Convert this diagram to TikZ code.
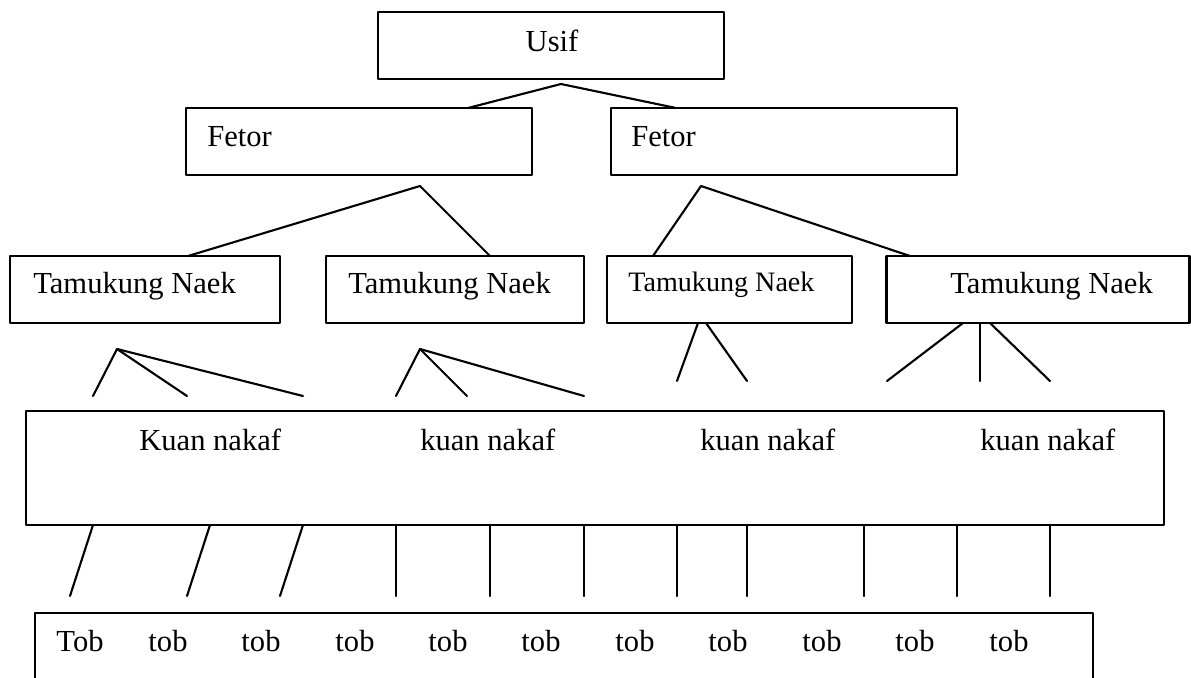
\documentclass[tikz,border=0pt]{standalone}
\usepackage{fontspec}
\setmainfont{Liberation Serif}
\usepackage{tikz}

\begin{document}
\begin{tikzpicture}[line cap=round,line join=round,x=0.02cm,y=-0.02cm,
  box/.style={draw,line width=1.3pt,rectangle,inner sep=0pt},
  lbl/.style={inner sep=0pt,font=\fontsize{17.4}{20}\selectfont},
  conn/.style={line width=1.2pt}]
\clip (0,0) rectangle (1191,677);
% boxes
\node[box,minimum width=6.92cm,minimum height=1.34cm] (usif) at (551,45.5) {};
\node[box,minimum width=6.92cm,minimum height=1.34cm] (fetorA) at (359,141.5) {};
\node[box,minimum width=6.92cm,minimum height=1.34cm] (fetorB) at (784,141.5) {};
\node[box,minimum width=5.4cm,minimum height=1.34cm] (naekA) at (145,289.5) {};
\node[box,minimum width=5.16cm,minimum height=1.34cm] (naekB) at (455,289.5) {};
\node[box,minimum width=4.9cm,minimum height=1.34cm] (naekC) at (729.5,289.5) {};
\node[box,minimum width=6.06cm,minimum height=1.34cm] (naekD) at (1038,289.5) {};
\node[box,minimum width=22.76cm,minimum height=2.28cm] (kuan) at (595,468) {};
\node[box,minimum width=21.16cm,minimum height=1.74cm] (tob) at (564,656.5) {};
% texts
\node[lbl,anchor=base] (usifT) at (552,51.7) {Usif};
\node[lbl,anchor=base west] (fetorAT) at (207,146.7) {Fetor};
\node[lbl,anchor=base west] (fetorBT) at (631,146.7) {Fetor};
\node[lbl,anchor=base west] (naekAT) at (33,293) {Tamukung Naek};
\node[lbl,anchor=base west] (naekBT) at (348,293) {Tamukung Naek};
\node[lbl,anchor=base west,font=\fontsize{16}{19}\selectfont] (naekCT) at (628,291.7) {Tamukung Naek};
\node[lbl,anchor=base west] (naekDT) at (950,293) {Tamukung Naek};
\node[lbl,anchor=base west] (kuanA) at (139,450) {Kuan nakaf};
\node[lbl,anchor=base west] (kuanB) at (420,450) {kuan nakaf};
\node[lbl,anchor=base west] (kuanC) at (700,450) {kuan nakaf};
\node[lbl,anchor=base west] (kuanD) at (980,450) {kuan nakaf};
\node[lbl,anchor=base] (tob1) at (80,651.7) {Tob};
\node[lbl,anchor=base] (tob2) at (168,651.7) {tob};
\node[lbl,anchor=base] (tob3) at (261,651.7) {tob};
\node[lbl,anchor=base] (tob4) at (355,651.7) {tob};
\node[lbl,anchor=base] (tob5) at (448,651.7) {tob};
\node[lbl,anchor=base] (tob6) at (541,651.7) {tob};
\node[lbl,anchor=base] (tob7) at (635,651.7) {tob};
\node[lbl,anchor=base] (tob8) at (728,651.7) {tob};
\node[lbl,anchor=base] (tob9) at (822,651.7) {tob};
\node[lbl,anchor=base] (tob10) at (915,651.7) {tob};
\node[lbl,anchor=base] (tob11) at (1009,651.7) {tob};
% usif to fetor
\coordinate (usifTop) at (561,84);
\coordinate (fetorAIn) at (468,108);
\coordinate (fetorBIn) at (676,108);
\draw[conn] (fetorAIn)-- (usifTop)-- (fetorBIn);
% fetor to tamukung naek
\coordinate (fetorATop) at (420,186);
\coordinate (naekAIn) at (188,256);
\coordinate (naekBIn) at (490,256);
\draw[conn] (naekAIn)-- (fetorATop)-- (naekBIn);
\coordinate (fetorBTop) at (701,186);
\coordinate (naekCIn) at (653,256);
\coordinate (naekDIn) at (910,256);
\draw[conn] (naekCIn)-- (fetorBTop)-- (naekDIn);
% tamukung naek to kuan nakaf
\coordinate (naekATop) at (117,349);
\coordinate (fanA1) at (93,396);
\coordinate (fanA2) at (187,396);
\coordinate (fanA3) at (303,396);
\draw[conn] (naekATop)-- (fanA1);
\draw[conn] (naekATop)-- (fanA2);
\draw[conn] (naekATop)-- (fanA3);
\coordinate (naekBTop) at (420,349);
\coordinate (fanB1) at (396,396);
\coordinate (fanB2) at (467,396);
\coordinate (fanB3) at (584,396);
\draw[conn] (naekBTop)-- (fanB1);
\draw[conn] (naekBTop)-- (fanB2);
\draw[conn] (naekBTop)-- (fanB3);
\coordinate (naekCOut1) at (698,323);
\coordinate (naekCOut2) at (706,323);
\coordinate (fanC1) at (677,381);
\coordinate (fanC2) at (747,381);
\draw[conn] (naekCOut1)-- (fanC1);
\draw[conn] (naekCOut2)-- (fanC2);
\coordinate (naekDOut1) at (963,323);
\coordinate (naekDOut2) at (980,323);
\coordinate (naekDOut3) at (990,323);
\coordinate (fanD1) at (887,381);
\coordinate (fanD2) at (980,381);
\coordinate (fanD3) at (1050,381);
\draw[conn] (naekDOut1)-- (fanD1);
\draw[conn] (naekDOut2)-- (fanD2);
\draw[conn] (naekDOut3)-- (fanD3);
% kuan nakaf to tob
\coordinate (kuanOut1) at (93,525);
\coordinate (kuanOut2) at (210,525);
\coordinate (kuanOut3) at (303,525);
\coordinate (tobIn1) at (70,596);
\coordinate (tobIn2) at (187,596);
\coordinate (tobIn3) at (280,596);
\draw[conn] (kuanOut1)-- (tobIn1);
\draw[conn] (kuanOut2)-- (tobIn2);
\draw[conn] (kuanOut3)-- (tobIn3);
\draw[conn] (kuan.south -| 396,0)-- (396,596);
\draw[conn] (kuan.south -| 490,0)-- (490,596);
\draw[conn] (kuan.south -| 584,0)-- (584,596);
\draw[conn] (kuan.south -| 677,0)-- (677,596);
\draw[conn] (kuan.south -| 747,0)-- (747,596);
\draw[conn] (kuan.south -| 864,0)-- (864,596);
\draw[conn] (kuan.south -| 957,0)-- (957,596);
\draw[conn] (kuan.south -| 1050,0)-- (1050,596);
\end{tikzpicture}
\end{document}
